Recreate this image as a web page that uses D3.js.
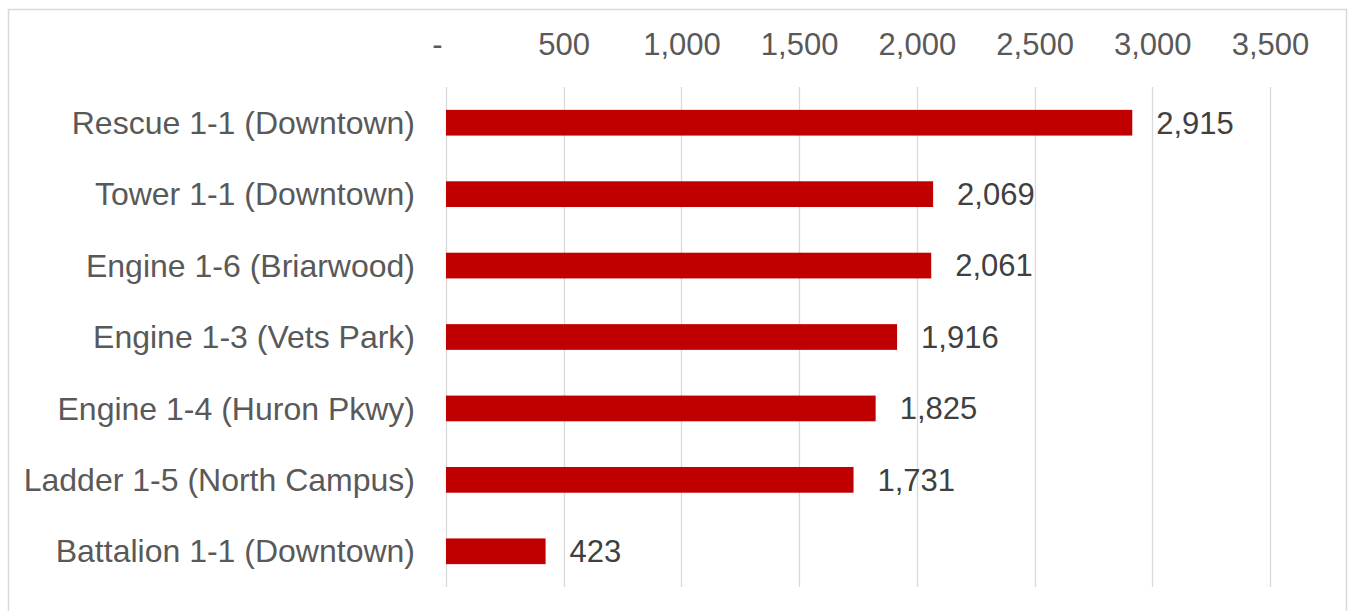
<!DOCTYPE html>
<html>
<head>
<meta charset="utf-8">
<script src="https://cdn.jsdelivr.net/npm/d3@7"></script>
<style>
	body { margin: 0; background: #ffffff; }
	svg text { font-family: 'Liberation Sans', Arial, sans-serif; }
</style>
</head>
<body>
<div id="chart"></div>
<script>
'use strict';

var categories = [
	'Rescue 1-1 (Downtown)',
	'Tower 1-1 (Downtown)',
	'Engine 1-6 (Briarwood)',
	'Engine 1-3 (Vets Park)',
	'Engine 1-4 (Huron Pkwy)',
	'Ladder 1-5 (North Campus)',
	'Battalion 1-1 (Downtown)'
];
var values = [2915, 2069, 2061, 1916, 1825, 1731, 423];
var tickValues = [0, 500, 1000, 1500, 2000, 2500, 3000, 3500];
var tickLabels = ['-', '500', '1,000', '1,500', '2,000', '2,500', '3,000', '3,500'];

var width = 1351;
var height = 611;

var svg = d3.select('#chart').append('svg')
	.attr('width', width)
	.attr('height', height);

// chart area border
svg.append('rect')
	.attr('x', 8.5)
	.attr('y', 9.5)
	.attr('width', 1338)
	.attr('height', 620)
	.attr('fill', 'none')
	.attr('stroke', '#d9d9d9')
	.attr('stroke-width', 1.5);

var xscale = d3.scaleLinear()
	.domain([0, 3500])
	.range([446, 1270]);

var yscale = d3.scaleBand()
	.domain(categories)
	.range([87, 587])
	.paddingInner(0.64)
	.paddingOuter(0.32);

// gridlines
svg.append('g')
	.attr('class', 'grid')
	.selectAll('line')
	.data(tickValues)
	.enter().append('line')
	.attr('x1', function(d) { return Math.round(xscale(d)) + 0.5; })
	.attr('x2', function(d) { return Math.round(xscale(d)) + 0.5; })
	.attr('y1', 87)
	.attr('y2', 587)
	.attr('stroke', '#d9d9d9')
	.attr('stroke-width', 1.3);

// top axis
var xaxis = svg.append('g')
	.attr('transform', 'translate(0,55)')
	.call(d3.axisTop(xscale)
		.tickValues(tickValues)
		.tickSize(0)
		.tickPadding(0)
		.tickFormat(function(d, i) { return tickLabels[i]; }));
xaxis.select('.domain').remove();
xaxis.selectAll('text')
	.attr('font-family', null)
	.style('font-size', '31px')
	.attr('fill', '#595959')
	.attr('dx', function(d) { return d === 0 ? '-9px' : 0; });

// y axis labels
var yaxis = svg.append('g')
	.attr('transform', 'translate(415,0)')
	.call(d3.axisLeft(yscale).tickSize(0).tickPadding(0));
yaxis.select('.domain').remove();
yaxis.selectAll('text')
	.attr('font-family', null)
	.style('font-size', '32px')
	.attr('fill', '#595959')
	.attr('dy', '0.35em');

// bars
svg.append('g')
	.selectAll('rect')
	.data(values)
	.enter().append('rect')
	.attr('x', xscale(0))
	.attr('y', function(d, i) { return yscale(categories[i]); })
	.attr('width', function(d) { return xscale(d) - xscale(0); })
	.attr('height', yscale.bandwidth())
	.attr('fill', '#c00000');

// value labels
svg.append('g')
	.selectAll('text')
	.data(values)
	.enter().append('text')
	.attr('x', function(d) { return xscale(d) + 24; })
	.attr('y', function(d, i) { return yscale(categories[i]) + yscale.bandwidth() / 2; })
	.attr('dy', '0.35em')
	.style('font-size', '31px')
	.attr('fill', '#404040')
	.text(function(d) { return d3.format(',')(d); });
</script>
</body>
</html>
